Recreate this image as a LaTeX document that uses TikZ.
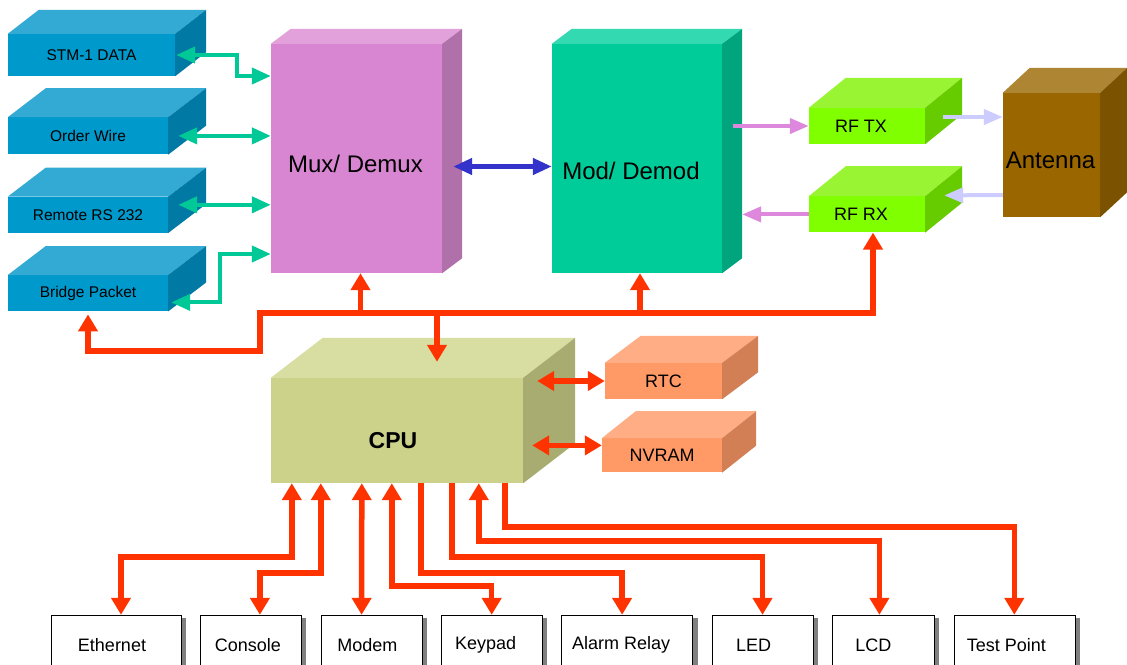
\documentclass[tikz,border=0pt]{standalone}
\usepackage{fontspec}
\setmainfont{Liberation Sans}
\usetikzlibrary{positioning, calc, arrows.meta, shadows}

\definecolor{bluefront}{HTML}{0099CC}
\definecolor{bluetop}{HTML}{33AAD4}
\definecolor{blueside}{HTML}{0079A5}
\definecolor{muxfront}{HTML}{D986D2}
\definecolor{muxtop}{HTML}{E3A1DC}
\definecolor{muxside}{HTML}{B070AA}
\definecolor{modfront}{HTML}{00CC99}
\definecolor{modtop}{HTML}{33D9B0}
\definecolor{modside}{HTML}{00A57E}
\definecolor{rffront}{HTML}{80FF00}
\definecolor{rftop}{HTML}{99F533}
\definecolor{rfside}{HTML}{66CC00}
\definecolor{antfront}{HTML}{996600}
\definecolor{anttop}{HTML}{AD8533}
\definecolor{antside}{HTML}{7A5200}
\definecolor{cpufront}{HTML}{CCD28A}
\definecolor{cputop}{HTML}{D8DDA2}
\definecolor{cpuside}{HTML}{A8AC70}
\definecolor{memfront}{HTML}{FF9966}
\definecolor{memtop}{HTML}{FFAD85}
\definecolor{memside}{HTML}{D27F55}
\definecolor{busred}{HTML}{FF3300}
\definecolor{linkgreen}{HTML}{00C896}
\definecolor{rfpink}{HTML}{DD88DD}
\definecolor{antlav}{HTML}{CCCCFF}
\definecolor{muxblue}{HTML}{3333CC}

\tikzset{
face/.style={rectangle, inner sep=0pt, font=\fontsize{18}{20}\selectfont}, % front face of a block
small face/.style={face, font=\fontsize{15.5}{18}\selectfont}, % the blue port blocks
title/.style 2 args={label={[font=\fontsize{24}{28}\selectfont, shift={(#1)}]center:#2}}, % big block text, moved by #1
io/.style={rectangle, draw, thin, fill=white, inner sep=0pt, minimum height=60pt,
  font=\fontsize{18}{20}\selectfont,
  drop shadow={shadow xshift=5pt, shadow yshift=-3pt, fill=black!50, opacity=1}}, % peripherals
rline/.style={draw=busred, line width=5.5pt, >={Triangle[width=19pt,length=17pt]}}, % cpu bus
gline/.style={draw=linkgreen, line width=4pt, <->, >={Triangle[width=16pt,length=19pt]}}, % ports
pline/.style={draw=rfpink, line width=4pt, ->, >={Triangle[width=15pt,length=19pt]}},
lline/.style={draw=antlav, line width=4pt, ->, >={Triangle[width=15pt,length=19pt]}},
}

% top and side face of a block: node, depth x, depth y, top colour, side colour
\newcommand{\blockfaces}[5]{
\fill[#4] (#1.north west) -- ++(#2,-#3) -- ($(#1.north east)+(#2,-#3)$) -- (#1.north east) -- cycle;
\fill[#5] (#1.north east) -- ++(#2,-#3) -- ($(#1.south east)+(#2,-#3)$) -- (#1.south east) -- cycle;
}

\begin{document}
\begin{tikzpicture}[x=1pt, y=-1pt]
\useasboundingbox (0,0) rectangle (1127,664);
\clip (0,0) rectangle (1127,664);
\fill[white] (0,0) rectangle (1127,664);

% port blocks
\node[small face, fill=bluefront, minimum width=167pt, minimum height=42pt] (stm) at (91.5,55) {STM-1 DATA};
\node[small face, fill=bluefront, minimum width=160pt, minimum height=37pt, below=41pt of stm.south west, anchor=north west] (ow) {Order Wire};
\node[small face, fill=bluefront, minimum width=160pt, minimum height=36pt, below=42pt of ow] (rs) {Remote RS 232};
\node[small face, fill=bluefront, minimum width=160pt, minimum height=36pt, below=42pt of rs] (bridge) {Bridge Packet};

% main blocks
\node[face, fill=muxfront, minimum width=171pt, minimum height=229pt, title={-1,5}{Mux/ Demux}] (mux) at (356.5,158.5) {};
\node[face, fill=modfront, minimum width=170pt, minimum height=229pt, title={-6,12}{Mod/ Demod}] (mod) at (637,158.5) {};
\node[face, fill=rffront, minimum width=116pt, minimum height=36pt] (rftx) at (867,126) {\hspace{-12pt}RF TX};
\node[face, fill=rffront, minimum width=116pt, minimum height=36pt, below=52pt of rftx] (rfrx) {\hspace{-12pt}RF RX};
\node[face, fill=antfront, minimum width=97pt, minimum height=124pt, title={-1,5}{Antenna}] (ant) at (1051.5,155) {};
\node[face, fill=cpufront, minimum width=252pt, minimum height=105pt,
  label={[font=\fontsize{23}{26}\selectfont\bfseries, shift={(-4,10)}]center:CPU}] (cpu) at (397,430.5) {};
\node[face, fill=memfront, minimum width=117pt, minimum height=36pt] (rtc) at (663.5,381) {RTC};
\node[face, fill=memfront, minimum width=120pt, minimum height=34pt, below=39pt of rtc.south east, anchor=north east] (nvram) {NVRAM};

% peripherals
\node[io, minimum width=130pt] (eth) at (116,645) {\hspace{-8pt}Ethernet};
\node[io, minimum width=101pt, right=19pt of eth] (con) {\hspace{-6pt}Console};
\node[io, minimum width=101pt, right=19pt of con] (modem) {\hspace{-8pt}Modem};
\node[io, minimum width=101pt, right=19pt of modem] (key) {\hspace{-12pt}\raisebox{3pt}{Keypad}};
\node[io, minimum width=131pt, right=19pt of key] (alarm) {\hspace{-12pt}Alarm Relay};
\node[io, minimum width=101pt, right=19pt of alarm] (led) {\hspace{-18pt}LED};
\node[io, minimum width=102pt, right=19pt of led] (lcd) {\hspace{-20pt}LCD};
\node[io, minimum width=121pt, right=19pt of lcd] (test) {\hspace{-16pt}Test Point};

\blockfaces{stm}{31}{24}{bluetop}{blueside}
\blockfaces{ow}{38}{29}{bluetop}{blueside}
\blockfaces{rs}{38}{29}{bluetop}{blueside}
\blockfaces{bridge}{38}{29}{bluetop}{blueside}
\blockfaces{mux}{20}{15}{muxtop}{muxside}
\blockfaces{mod}{20}{15}{modtop}{modside}
\blockfaces{rftx}{37}{30}{rftop}{rfside}
\blockfaces{rfrx}{37}{30}{rftop}{rfside}
\blockfaces{ant}{27}{25}{anttop}{antside}
\blockfaces{cpu}{52}{40}{cputop}{cpuside}
\blockfaces{rtc}{36}{27}{memtop}{memside}
\blockfaces{nvram}{34}{27}{memtop}{memside}

% ports to mux
\draw[gline] ([xshift=1pt]stm.east) -| (237,76) -- (mux.west |- 0,76);
\draw[gline] ([xshift=10pt]ow.east) -- (mux.west |- ow.east);
\draw[gline] ($(rs.east)+(10,-10)$) -- ($(mux.west |- rs.east)+(0,-10)$);
\draw[gline] ([xshift=3pt,yshift=9pt]bridge.south east) -| (220,254) -- (mux.west |- 0,254);

% mux, modem, rf and antenna
\draw[draw=muxblue, line width=4.5pt, <->, >={Triangle[width=16pt,length=19pt]}]
  ([xshift=11pt,yshift=-8pt]mux.east) -- ([yshift=-8pt]mod.west);
\draw[pline] ([xshift=11pt]mod.east |- rftx.west) -- (rftx.west);
\draw[pline] (rfrx.west) -- ([xshift=20pt]mod.east |- rfrx.west);
\draw[lline] ([xshift=18pt,yshift=9pt]rftx.east) -- ([yshift=38pt]ant.west);
\draw[lline] ([yshift=-40pt]ant.west) -- ([xshift=19pt,yshift=19pt]rfrx.east);

% cpu bus
\coordinate (bus) at (260,313);
\draw[rline, <->] ([yshift=-3pt]bridge.south) |- (260,351) -- (bus) -| ([xshift=6pt]rfrx.south);
\draw[rline, ->] ([xshift=4pt]mux.south |- bus) -- ([xshift=4pt]mux.south);
\draw[rline, ->] ([xshift=3pt]mod.south |- bus) -- ([xshift=3pt]mod.south);
\draw[rline, ->] ([xshift=40pt]cpu.north |- bus) -- ([shift={(40pt,16pt)}]cpu.north);
\draw[rline, <->] ([xshift=14pt]cpu.east |- rtc.west) -- (rtc.west);
\draw[rline, <->] ($(cpu.east |- nvram.west)+(9,-10)$) -- ([yshift=10pt]nvram.west);

% cpu to peripherals
\draw[rline, <->] ($(cpu.south west)+(21,0)$) -- ++(0,74) -| ([xshift=5pt]eth.north);
\draw[rline, <->] ($(cpu.south west)+(50,0)$) -- ++(0,90) -| ([xshift=9pt]con.north);
\draw[rline, <->] ($(cpu.south west)+(91,0)$) -- ($(modem.north west)+(41,0)$);
\draw[rline, <->] ($(cpu.south west)+(121,0)$) -- ++(0,103) -| (key.north);
\draw[rline, ->] ($(cpu.south west)+(150,0)$) -- ++(0,90) -| ([xshift=-5pt]alarm.north);
\draw[rline, ->] ($(cpu.south west)+(181,0)$) -- ++(0,74) -| (led.north);
\draw[rline, <->] ($(cpu.south west)+(208,0)$) -- ++(0,58) -| ([xshift=-4pt]lcd.north);
\draw[rline, ->] ($(cpu.south west)+(234,0)$) -- ++(0,44) -| (test.north);
\end{tikzpicture}
\end{document}
